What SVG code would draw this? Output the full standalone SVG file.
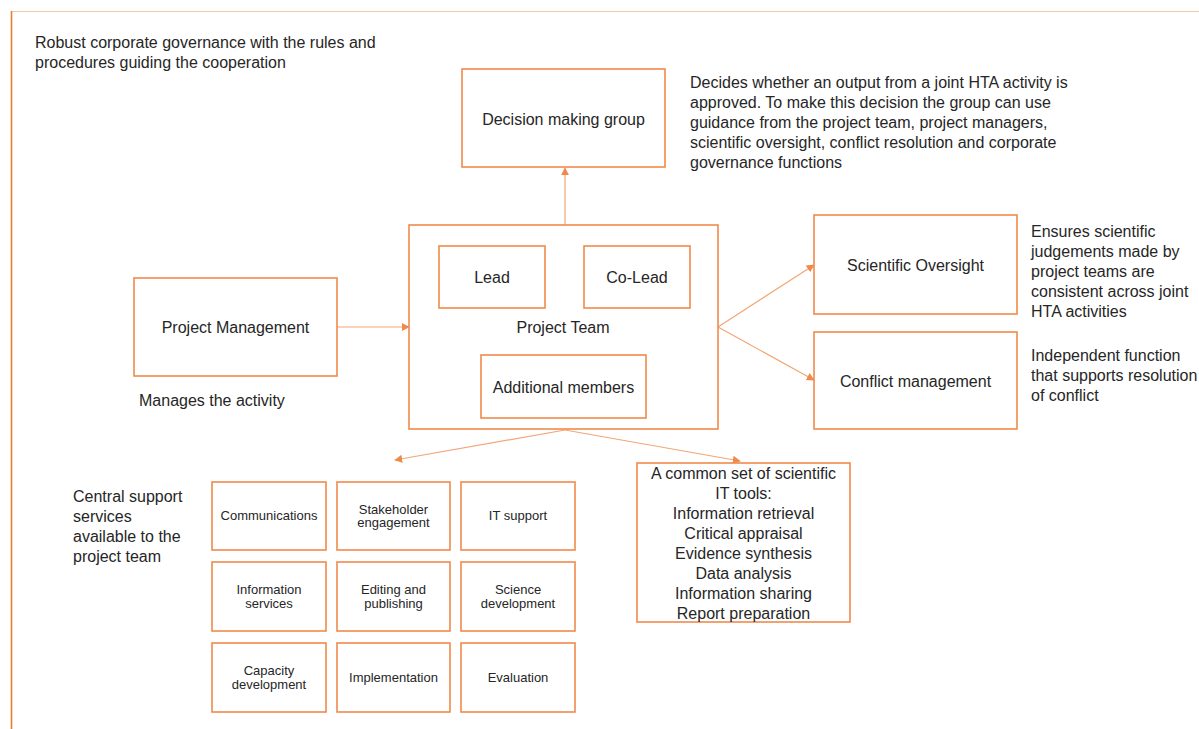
<svg xmlns="http://www.w3.org/2000/svg" width="1199" height="729" viewBox="0 0 1199 729">
  <style>
    .box { fill: #ffffff; stroke: #ef8a4c; stroke-width: 1.6; }
    .frame-top { stroke: #f5c9a8; stroke-width: 1.2; }
    .frame-left { stroke: #ed7d31; stroke-width: 1.6; }
    .link { fill: none; stroke: #f3a676; stroke-width: 1.2; }
    text { font-family: "Liberation Sans", Arial, sans-serif; fill: #262626; }
    .t16 { font-size: 16px; }
    .t13 { font-size: 13px; }
    .mid { text-anchor: middle; }
  </style>
  <defs>
    <marker id="arrow" viewBox="0 0 10 10" refX="9" refY="5" markerWidth="8" markerHeight="8" markerUnits="userSpaceOnUse" orient="auto">
      <path d="M0,0 L10,5 L0,10 Z" fill="#ef8a4c"/>
    </marker>
  </defs>

  <rect width="1199" height="729" fill="#ffffff"/>

  <!-- slide frame -->
  <line class="frame-top" x1="11" y1="11.5" x2="1199" y2="11.5"/>
  <line class="frame-left" x1="11.5" y1="11" x2="11.5" y2="729"/>

  <!-- free-standing notes -->
  <g id="note-governance">
    <text class="t16" x="35" y="48">Robust corporate governance with the rules and</text>
    <text class="t16" x="35" y="68">procedures guiding the cooperation</text>
  </g>
  <g id="note-decision">
    <text class="t16" x="690" y="87.5">Decides whether an output from a joint HTA activity is</text>
    <text class="t16" x="690" y="107.5">approved. To make this decision the group can use</text>
    <text class="t16" x="690" y="127.5">guidance from the project team, project managers,</text>
    <text class="t16" x="690" y="147.5">scientific oversight, conflict resolution and corporate</text>
    <text class="t16" x="690" y="167.5">governance functions</text>
  </g>
  <g id="note-oversight">
    <text class="t16" x="1031" y="237">Ensures scientific</text>
    <text class="t16" x="1031" y="257">judgements made by</text>
    <text class="t16" x="1031" y="277">project teams are</text>
    <text class="t16" x="1031" y="297">consistent across joint</text>
    <text class="t16" x="1031" y="317">HTA activities</text>
  </g>
  <g id="note-conflict">
    <text class="t16" x="1031" y="360.5">Independent function</text>
    <text class="t16" x="1031" y="380.5">that supports resolution</text>
    <text class="t16" x="1031" y="400.5">of conflict</text>
  </g>
  <g id="note-management">
    <text class="t16" x="139" y="405.5">Manages the activity</text>
  </g>
  <g id="note-support">
    <text class="t16" x="73" y="501.5">Central support</text>
    <text class="t16" x="73" y="521.5">services</text>
    <text class="t16" x="73" y="541.5">available to the</text>
    <text class="t16" x="73" y="561.5">project team</text>
  </g>

  <!-- connectors -->
  <g id="connectors">
    <line class="link" x1="565" y1="225" x2="565" y2="168" marker-end="url(#arrow)"/>
    <line class="link" x1="337" y1="327" x2="409" y2="327" marker-end="url(#arrow)"/>
    <line class="link" x1="718" y1="327" x2="814" y2="265" marker-end="url(#arrow)"/>
    <line class="link" x1="718" y1="327" x2="814" y2="380" marker-end="url(#arrow)"/>
    <line class="link" x1="565" y1="430" x2="395" y2="460" marker-end="url(#arrow)"/>
    <line class="link" x1="565" y1="430" x2="740" y2="461" marker-end="url(#arrow)"/>
  </g>

  <!-- main nodes -->
  <g id="decision-making-group">
    <rect class="box" x="462" y="69" width="203" height="98"/>
    <text class="t16 mid" x="563.5" y="124.5">Decision making group</text>
  </g>

  <g id="project-management">
    <rect class="box" x="134" y="278" width="203" height="98"/>
    <text class="t16 mid" x="235.5" y="333">Project Management</text>
  </g>

  <g id="project-team">
    <rect class="box" x="409" y="225" width="309" height="204"/>
    <text class="t16 mid" x="563" y="333">Project Team</text>
  </g>
  <g id="lead">
    <rect class="box" x="439" y="246" width="106" height="62"/>
    <text class="t16 mid" x="492" y="283">Lead</text>
  </g>
  <g id="co-lead">
    <rect class="box" x="584" y="246" width="106" height="62"/>
    <text class="t16 mid" x="637" y="283">Co-Lead</text>
  </g>
  <g id="additional-members">
    <rect class="box" x="481" y="355" width="165" height="63"/>
    <text class="t16 mid" x="563.5" y="392.5">Additional members</text>
  </g>

  <g id="scientific-oversight">
    <rect class="box" x="814" y="215" width="203" height="99"/>
    <text class="t16 mid" x="915.5" y="270.5">Scientific Oversight</text>
  </g>
  <g id="conflict-management">
    <rect class="box" x="814" y="332" width="203" height="97"/>
    <text class="t16 mid" x="915.5" y="386.5">Conflict management</text>
  </g>

  <g id="it-tools">
    <rect class="box" x="637" y="463" width="213" height="159"/>
    <text class="t16 mid" x="743.5" y="478.5">A common set of scientific</text>
    <text class="t16 mid" x="743.5" y="498.5">IT  tools:</text>
    <text class="t16 mid" x="743.5" y="518.5">Information retrieval</text>
    <text class="t16 mid" x="743.5" y="538.5">Critical appraisal</text>
    <text class="t16 mid" x="743.5" y="558.5">Evidence synthesis</text>
    <text class="t16 mid" x="743.5" y="578.5">Data analysis</text>
    <text class="t16 mid" x="743.5" y="598.5">Information sharing</text>
    <text class="t16 mid" x="743.5" y="618.5">Report preparation</text>
  </g>

  <!-- central support services grid -->
  <g id="communications">
    <rect class="box" x="212" y="482" width="114" height="68"/>
    <text class="t13 mid" x="269" y="520">Communications</text>
  </g>
  <g id="stakeholder-engagement">
    <rect class="box" x="337" y="482" width="113" height="68"/>
    <text class="t13 mid" x="393.5" y="513.5">Stakeholder</text>
    <text class="t13 mid" x="393.5" y="527">engagement</text>
  </g>
  <g id="it-support">
    <rect class="box" x="461" y="482" width="114" height="68"/>
    <text class="t13 mid" x="518" y="520">IT support</text>
  </g>
  <g id="information-services">
    <rect class="box" x="212" y="562" width="114" height="69"/>
    <text class="t13 mid" x="269" y="594">Information</text>
    <text class="t13 mid" x="269" y="607.5">services</text>
  </g>
  <g id="editing-publishing">
    <rect class="box" x="337" y="562" width="113" height="69"/>
    <text class="t13 mid" x="393.5" y="594">Editing and</text>
    <text class="t13 mid" x="393.5" y="607.5">publishing</text>
  </g>
  <g id="science-development">
    <rect class="box" x="461" y="562" width="114" height="69"/>
    <text class="t13 mid" x="518" y="594">Science</text>
    <text class="t13 mid" x="518" y="607.5">development</text>
  </g>
  <g id="capacity-development">
    <rect class="box" x="212" y="643" width="114" height="69"/>
    <text class="t13 mid" x="269" y="675">Capacity</text>
    <text class="t13 mid" x="269" y="688.5">development</text>
  </g>
  <g id="implementation">
    <rect class="box" x="337" y="643" width="113" height="69"/>
    <text class="t13 mid" x="393.5" y="681.5">Implementation</text>
  </g>
  <g id="evaluation">
    <rect class="box" x="461" y="643" width="114" height="69"/>
    <text class="t13 mid" x="518" y="681.5">Evaluation</text>
  </g>
</svg>
